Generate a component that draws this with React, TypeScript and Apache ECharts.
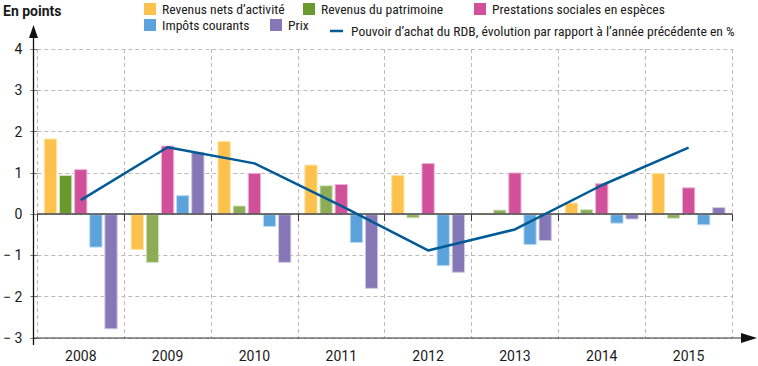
import React, { useEffect, useRef } from "react";
import * as echarts from "echarts";

const years = ["2008", "2009", "2010", "2011", "2012", "2013", "2014", "2015"];
const revenusActivite = [1.83, -0.87, 1.77, 1.2, 0.95, 0.02, 0.28, 1.0];
const revenusPatrimoine = [0.95, -1.18, 0.21, 0.7, -0.1, 0.11, 0.12, -0.11];
const prestations = [1.09, 1.66, 1.0, 0.73, 1.24, 1.01, 0.75, 0.65];
const impots = [-0.81, 0.46, -0.31, -0.7, -1.26, -0.75, -0.23, -0.27];
const prix = [-2.79, 1.51, -1.18, -1.81, -1.42, -0.65, -0.13, 0.17];
const pouvoirAchat = [0.34, 1.62, 1.23, 0.2, -0.88, -0.37, 0.7, 1.61];

const FONT = 'Roboto, sans-serif';
const LEGEND_FONT = '"Liberation Sans Narrow", "Roboto Condensed", Roboto, sans-serif';

export default function App() {
  const ref = useRef<HTMLDivElement>(null);
  useEffect(() => {
    if (!ref.current) return;
    const chart = echarts.init(ref.current, null, { renderer: "svg" });
    const gridLeft = 34;
    const gridRight = 26;
    const gridTop = 49;
    const gridBottom = 28;
    const H = 366;
    const axisY = H - gridBottom;

    const barBase = {
      type: "bar",
      barGap: "14%",
      barCategoryGap: "15%",
      z: 2,
    };

    const names = [
      "Revenus nets d’activité",
      "Revenus du patrimoine",
      "Prestations sociales en espèces",
      "Impôts courants",
      "Prix",
      "Pouvoir d’achat du RDB, évolution par rapport à l’année précédente en %",
    ];
    const legendColors = ["#FDC24E", "#6A9A2E", "#D1509A", "#5BA3DA", "#8677B6", "#005A96"];

    const legendPos = [
      { left: 144, top: 2 },
      { left: 303, top: 2 },
      { left: 474, top: 2 },
      { left: 144, top: 18 },
      { left: 270, top: 18 },
      { left: 330, top: 18 },
    ];

    const legends = names.map((n, i) => ({
      left: legendPos[i].left,
      top: legendPos[i].top + (i === 5 ? 6 : 0),
      itemWidth: i === 5 ? 13 : 12,
      itemHeight: i === 5 ? 2.5 : 12,
      itemGap: 0,
      padding: 0,
      selectedMode: false,
      data: [{ name: n, icon: "rect", itemStyle: { color: legendColors[i], borderWidth: 0 } }],
      textStyle: { fontFamily: LEGEND_FONT, fontSize: 13.6, color: "#1a1a1a", padding: [0, 0, 0, i === 5 ? 3 : 1] },
    }));

    chart.setOption({
      animation: false,
      textStyle: { fontFamily: LEGEND_FONT, fontSize: 13.6 },
      legend: legends,
      grid: { left: gridLeft, right: gridRight, top: gridTop, bottom: gridBottom, containLabel: false },
      xAxis: {
        type: "category",
        data: years,
        axisLine: { show: false },
        axisTick: { show: true, length: 7, lineStyle: { color: "#333" } },
        axisLabel: { fontFamily: FONT, fontSize: 14, color: "#1a1a1a", margin: 11 },
        splitLine: { show: true, lineStyle: { type: [4, 3], color: "#bbb" } },
      },
      yAxis: {
        type: "value",
        min: -3,
        max: 4,
        interval: 1,
        axisLine: { show: false },
        axisTick: { show: true, length: 7, lineStyle: { color: "#777" } },
        axisLabel: {
          fontFamily: FONT,
          fontSize: 14,
          color: "#1a1a1a",
          margin: 15,
          formatter: (v: number) => (v < 0 ? "\u2212 " + Math.abs(v) : String(v)),
        },
        splitLine: { show: true, lineStyle: { type: [4, 3], color: "#bbb" } },
      },
      series: [
        {
          ...barBase,
          name: names[0],
          data: revenusActivite,
          itemStyle: { color: "#FDC24E", borderColor: "#FFE3A3", borderWidth: 1 },
          markLine: {
            silent: true,
            symbol: "none",
            label: { show: false },
            lineStyle: { color: "#444", type: "solid", width: 1.5 },
            data: [{ yAxis: 0 }],
            z: 5,
          },
        },
        {
          ...barBase,
          name: names[1],
          data: revenusPatrimoine,
          itemStyle: {
            color: (p: any) => (p.dataIndex === 0 ? "#6A9A2E" : "#8CAD55"),
            borderColor: "#D2E3BC",
            borderWidth: 1,
          },
        },
        {
          ...barBase,
          name: names[2],
          data: prestations,
          itemStyle: { color: "#D1509A", borderColor: "#EFB4D5", borderWidth: 1 },
        },
        {
          ...barBase,
          name: names[3],
          data: impots,
          itemStyle: { color: "#5BA3DA", borderColor: "#BCDAF1", borderWidth: 1 },
        },
        {
          ...barBase,
          name: names[4],
          data: prix,
          itemStyle: { color: "#8677B6", borderColor: "#D0C9E5", borderWidth: 1 },
        },
        {
          type: "line",
          name: names[5],
          data: pouvoirAchat,
          symbol: "none",
          z: 6,
          lineStyle: { color: "#005A96", width: 2.5 },
          itemStyle: { color: "#005A96" },
        },
      ],
      graphic: [
        {
          type: "text",
          left: 3,
          top: 4,
          style: { text: "En points", font: `bold 14px ${FONT}`, fill: "#1a1a1a" },
        },
        {
          type: "line",
          shape: { x1: 33.5, y1: 36, x2: 33.5, y2: axisY + 7 },
          style: { stroke: "#111", lineWidth: 1.3 },
          z: 10,
        },
        {
          type: "polygon",
          shape: { points: [[33.5, 25], [29, 38], [38, 38]] },
          style: { fill: "#111" },
          z: 10,
        },
        {
          type: "line",
          shape: { x1: gridLeft, y1: axisY, x2: 745, y2: axisY },
          style: { stroke: "#333", lineWidth: 1.2 },
          z: 10,
        },
        {
          type: "polygon",
          shape: { points: [[757, axisY], [741, axisY - 5], [741, axisY + 5]] },
          style: { fill: "#111" },
          z: 10,
        },
      ],
    });
    return () => chart.dispose();
  }, []);
  return <div ref={ref} style={{ width: 758, height: 366, position: "absolute", left: 0, top: 0 }} />;
}
